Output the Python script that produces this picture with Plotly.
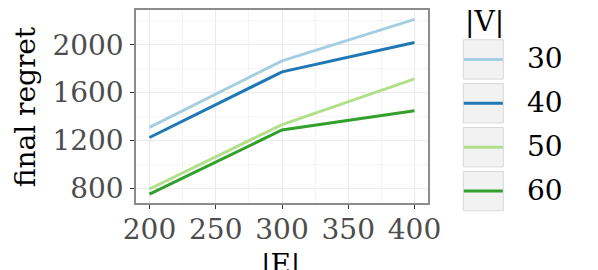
import plotly.graph_objects as go

# ---- data ----
E = [200, 300, 400]
V_labels = ["30", "40", "50", "60"]
regret_30 = [1310, 1865, 2212]
regret_40 = [1225, 1773, 2018]
regret_50 = [795, 1333, 1715]
regret_60 = [752, 1288, 1448]
x_ticks = [200, 250, 300, 350, 400]
y_ticks = [800, 1200, 1600, 2000]

series = [regret_30, regret_40, regret_50, regret_60]
colors = ["#a6cee3", "#1f78b4", "#b2df8a", "#33a02c"]

FONT = "DejaVu Serif"
FS = 28
OFF = 8  # page body margin
W, H = 598 - OFF, 270 - OFF
# plot panel in page pixels: x 136..428, y 9.5..203
L, R, T, B = 136 - OFF, W - (428 - OFF), 9.5 - OFF, H - (203 - OFF)
PW, PH = W - L - R, H - T - B


def px(x):  # page px -> paper
    return (x - OFF - L) / PW


def py(y):  # page px -> paper
    return (H - B - (y - OFF)) / PH


fig = go.Figure()
for name, vals, c in zip(V_labels, series, colors):
    fig.add_trace(go.Scatter(x=E, y=vals, mode="lines", name=name,
                             line=dict(color=c, width=3), showlegend=False))

# manual ggplot-like legend
shapes = []
annotations = []
box_top = 39.3
step = 44
for i, (name, c) in enumerate(zip(V_labels, colors)):
    y0 = box_top + i * step
    y1 = y0 + 39.5
    shapes.append(dict(type="rect", xref="paper", yref="paper",
                       x0=px(463.3), x1=px(503.3), y0=py(y1), y1=py(y0),
                       fillcolor="#f2f2f2", line=dict(color="#d9d9d9", width=1)))
    ym = (y0 + y1) / 2
    shapes.append(dict(type="line", xref="paper", yref="paper",
                       x0=px(463.8), x1=px(502.8), y0=py(ym), y1=py(ym),
                       line=dict(color=c, width=3)))
    annotations.append(dict(text=name, xref="paper", yref="paper",
                            x=px(525), y=py(ym - 1), xanchor="left", yanchor="middle",
                            showarrow=False, font=dict(family=FONT, size=FS, color="black")))
annotations.append(dict(text="|V|", xref="paper", yref="paper",
                        x=px(463), y=py(21), xanchor="left", yanchor="middle",
                        showarrow=False, font=dict(family=FONT, size=FS, color="black")))
# axis titles
annotations.append(dict(text="final regret", xref="paper", yref="paper",
                        x=px(25), y=py(107), xanchor="center", yanchor="middle",
                        textangle=-90, showarrow=False,
                        font=dict(family=FONT, size=FS, color="black")))
annotations.append(dict(text="|E|", xref="paper", yref="paper",
                        x=px(280), y=py(246), xanchor="center", yanchor="top",
                        showarrow=False,
                        font=dict(family=FONT, size=FS, color="black")))

fig.update_layout(
    width=W, height=H,
    margin=dict(l=L, r=R, t=T, b=B, autoexpand=False),
    paper_bgcolor="white", plot_bgcolor="white",
    font=dict(family=FONT, size=FS, color="#4d4d4d"),
    shapes=shapes, annotations=annotations,
    xaxis=dict(range=[189.8, 410.2], tickvals=x_ticks, ticktext=[str(v) for v in x_ticks],
               ticks="outside", ticklen=4, tickwidth=1, tickcolor="#333333",
               showline=True, mirror=True, linecolor="#8c8c8c", linewidth=1.5,
               showgrid=True, gridcolor="#ebebeb", gridwidth=1.2,
               minor=dict(tickvals=[225, 275, 325, 375], showgrid=True,
                          gridcolor="#f4f4f4", gridwidth=0.8, ticks=""),
               zeroline=False, automargin=False, ticklabelstandoff=-3,
               tickfont=dict(family=FONT, size=FS, color="#4d4d4d")),
    yaxis=dict(range=[678, 2290], tickvals=y_ticks, ticktext=[str(v) for v in y_ticks],
               ticks="outside", ticklen=4, tickwidth=1, tickcolor="#333333",
               showline=True, mirror=True, linecolor="#8c8c8c", linewidth=1.5,
               showgrid=True, gridcolor="#ebebeb", gridwidth=1.2,
               minor=dict(tickvals=[1000, 1400, 1800, 2200], showgrid=True,
                          gridcolor="#f4f4f4", gridwidth=0.8, ticks=""),
               zeroline=False, ticklabelstandoff=1, automargin=False,
               tickfont=dict(family=FONT, size=FS, color="#4d4d4d")),
)

fig.write_html("out.html")
